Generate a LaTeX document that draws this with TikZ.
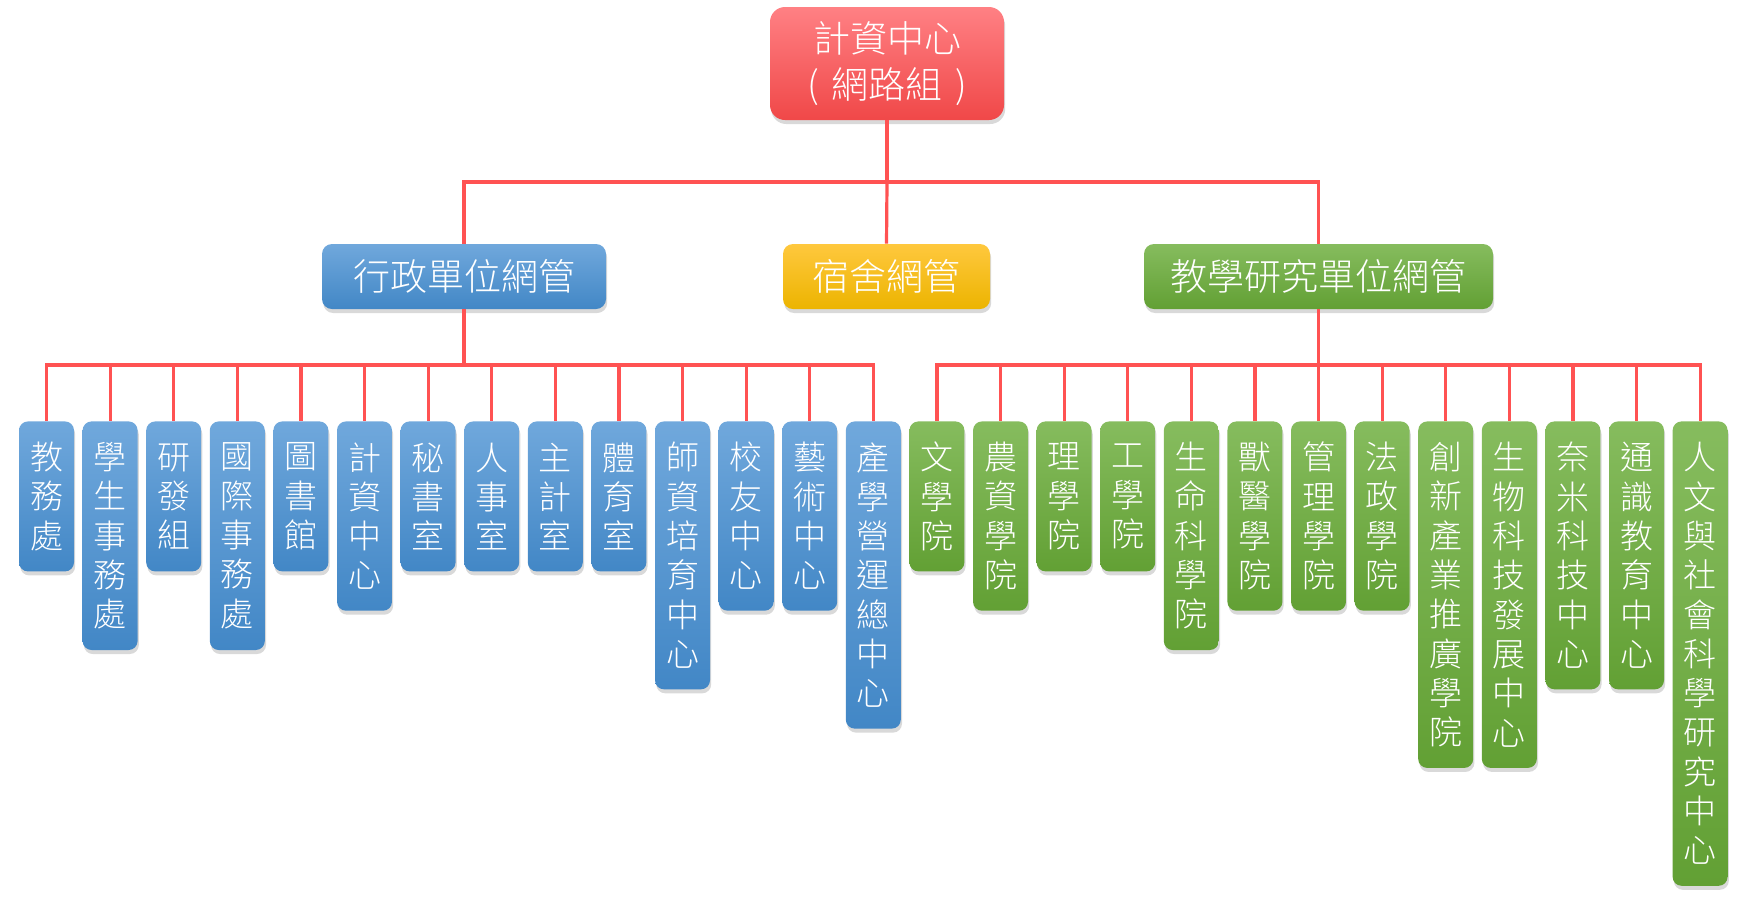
\documentclass[tikz,border=0pt]{standalone}
\usepackage{fontspec}
\setmainfont{Noto Sans CJK TC}[UprightFont={* Light}]
\usetikzlibrary{shadows}
\definecolor{connred}{RGB}{255,82,82}
\definecolor{redtop}{RGB}{255,128,132}
\definecolor{redbot}{RGB}{240,72,72}
\definecolor{bluetop}{RGB}{112,168,220}
\definecolor{bluebot}{RGB}{66,135,198}
\definecolor{yeltop}{RGB}{255,200,62}
\definecolor{yelbot}{RGB}{236,180,0}
\definecolor{greentop}{RGB}{134,188,94}
\definecolor{greenbot}{RGB}{98,160,52}
\tikzset{
  box/.style={inner sep=0pt, text=white,
    drop shadow={shadow xshift=0.6pt, shadow yshift=-2pt, opacity=0.3}},
  redbox/.style={top color=redtop, bottom color=redbot},
  bluebox/.style={top color=bluetop, bottom color=bluebot},
  yelbox/.style={top color=yeltop, bottom color=yelbot},
  greenbox/.style={top color=greentop, bottom color=greenbot},
  rootbox/.style={box, redbox, rounded corners=7.5pt, minimum width=117pt, minimum height=56.5pt,
    align=center, font=\fontsize{18.5pt}{23pt}\selectfont},
  midbox/.style={box, rounded corners=5pt, minimum height=32.5pt,
    font=\fontsize{18.5pt}{22pt}\selectfont},
  leaf/.style={box, rounded corners=4.5pt, minimum width=27.5pt, anchor=north,
    align=center, font=\fontsize{16.5pt}{19.65pt}\selectfont},
  link/.style={draw=connred, line width=1.6pt},
}
\begin{document}
\begin{tikzpicture}[x=0.5pt,y=-0.5pt]
\useasboundingbox (0,0) rectangle (1748,907);

\node[rootbox] (root) at (887,63.5) {計資中心\\\makebox[1em]{(}網路組\makebox[1em]{)}};

\node[midbox, bluebox, minimum width=142pt] (admin) at (464,276.5) {行政單位網管};
\node[midbox, yelbox, minimum width=103.5pt] (dorm) at (886.5,276.5) {宿舍網管};
\node[midbox, greenbox, minimum width=174.5pt] (acad) at (1318.5,276.5) {教學研究單位網管};

\coordinate (top) at (887,182);
\coordinate (abus) at (464,365);
\coordinate (cbus) at (1318.5,365);

\draw[link] (root.south) -- (top);
\draw[link] (admin.north) |- (top) -| (acad.north);
\draw[link] (top) -- (dorm.north);
\draw[link] (admin.south) -- (abus);
\draw[link] (acad.south) -- (cbus);

\foreach \n/\t [count=\i from 0] in {
  3/{教\\務\\處}, 5/{學\\生\\事\\務\\處}, 3/{研\\發\\組}, 5/{國\\際\\事\\務\\處},
  3/{圖\\書\\館}, 4/{計\\資\\中\\心}, 3/{秘\\書\\室}, 3/{人\\事\\室},
  3/{主\\計\\室}, 3/{體\\育\\室}, 6/{師\\資\\培\\育\\中\\心}, 4/{校\\友\\中\\心},
  4/{藝\\術\\中\\心}, 7/{產\\學\\營\\運\\總\\中\\心}}{
  \pgfmathsetmacro\leafx{46.5+63.6*\i}
  \pgfmathsetmacro\leafh{(150+39.3*(\n-3))*0.5}
  \node[leaf, bluebox, minimum height=\leafh pt] (A\i) at (\leafx,421) {\t};
  \draw[link] (abus) -| (A\i.north);
}

\foreach \n/\t [count=\i from 14] in {
  3/{文\\學\\院}, 4/{農\\資\\學\\院}, 3/{理\\學\\院}, 3/{工\\學\\院},
  5/{生\\命\\科\\學\\院}, 4/{獸\\醫\\學\\院}, 4/{管\\理\\學\\院}, 4/{法\\政\\學\\院},
  8/{創\\新\\產\\業\\推\\廣\\學\\院}, 8/{生\\物\\科\\技\\發\\展\\中\\心},
  6/{奈\\米\\科\\技\\中\\心}, 6/{通\\識\\教\\育\\中\\心},
  11/{人\\文\\與\\社\\會\\科\\學\\研\\究\\中\\心}}{
  \pgfmathsetmacro\leafx{46.5+63.6*\i}
  \pgfmathsetmacro\leafh{(150+39.3*(\n-3))*0.5}
  \node[leaf, greenbox, minimum height=\leafh pt] (C\i) at (\leafx,421) {\t};
  \draw[link] (cbus) -| (C\i.north);
}
\end{tikzpicture}
\end{document}
